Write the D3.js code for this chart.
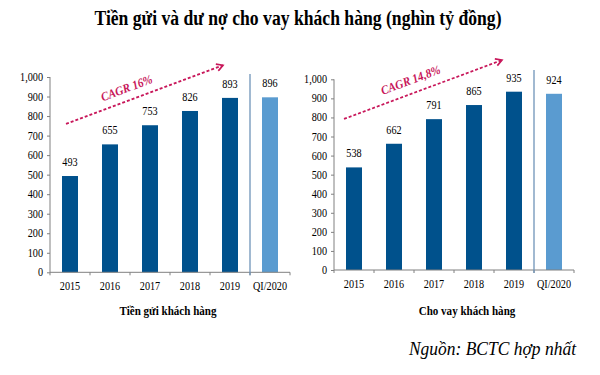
<!DOCTYPE html>
<html><head><meta charset="utf-8">
<script src="https://cdn.jsdelivr.net/npm/d3@7"></script>
<style>html,body{margin:0;padding:0;background:#fff;}svg{display:block;}</style>
</head><body>
<svg id="c" width="600" height="375"></svg>
<script>
const categories = ["2015","2016","2017","2018","2019","QI/2020"];
const deposits = [493,655,753,826,893,896];
const loans = [538,662,791,865,935,924];
const yTicks = [0,100,200,300,400,500,600,700,800,900,1000];
const panelTitles = ["Tiền gửi khách hàng","Cho vay khách hàng"];
const cagrLabels = ["CAGR 16%","CAGR 14,8%"];
const chartTitle = "Tiền gửi và dư nợ cho vay khách hàng (nghìn tỷ đồng)";
const sourceNote = "Nguồn: BCTC hợp nhất";

const svg = d3.select("#c");
const FONT = "'Liberation Serif','Times New Roman',serif";
const DARK = "#00518C", LIGHT = "#5A9BD0", SEP = "#6F94B8", AXIS = "#808080", CAGR = "#C8175A";

function txt(g, x, y, s, o) {
  const t = g.append("text")
    .attr("transform", `translate(${x},${y})` + (o.rot ? ` rotate(${o.rot})` : "") + ` scale(${o.sx || 1},1)`)
    .attr("text-anchor", o.anchor || "middle")
    .attr("font-family", FONT)
    .attr("font-size", o.size)
    .attr("font-weight", o.weight || "normal")
    .attr("font-style", o.style || "normal")
    .attr("fill", o.fill || "#000")
    .text(s);
  return t;
}

// title
txt(svg, 298, 25, chartTitle, {size: 20.5, weight: "bold", sx: 0.86});

const panels = [
  {values: deposits, x0: 50, x1: 290, yTop: 77, yBot: 272.3, sepTop: 74,
   arrow: [[0, 16, 760], [4, 13, 1060]], label: [128, 88], title: panelTitles[0], cagr: cagrLabels[0], titleX: 168},
  {values: loans, x0: 334, x1: 574, yTop: 79.3, yBot: 270, sepTop: 70,
   arrow: [[0, 10, 792], [4, 8, 1101]], label: [412, 80], title: panelTitles[1], cagr: cagrLabels[1], titleX: 467}
];

svg.append("defs").append("marker")
  .attr("id", "ah").attr("viewBox", "0 0 10 10").attr("refX", 8).attr("refY", 5)
  .attr("markerWidth", 5).attr("markerHeight", 5).attr("orient", "auto")
  .append("path").attr("d", "M1,1 L8,5 L1,9").attr("fill", "none").attr("stroke", CAGR).attr("stroke-width", 1.8);

panels.forEach(p => {
  const g = svg.append("g");
  const x = d3.scaleBand().domain(categories).range([p.x0, p.x1]).paddingInner(0).paddingOuter(0);
  const y = d3.scaleLinear().domain([0, 1000]).range([p.yBot, p.yTop]);
  const bw = 16;

  // bars
  g.selectAll("rect.bar").data(p.values).join("rect")
    .attr("x", (d, i) => x(categories[i]) + x.bandwidth() / 2 - bw / 2)
    .attr("y", d => y(d))
    .attr("width", bw)
    .attr("height", d => y(0) - y(d))
    .attr("fill", (d, i) => i === categories.length - 1 ? LIGHT : DARK);

  // value labels
  p.values.forEach((d, i) => {
    txt(g, x(categories[i]) + x.bandwidth() / 2, y(d) - 10, String(d), {size: 12, sx: 0.85});
  });

  // y axis
  const ya = g.append("g").attr("transform", `translate(${p.x0},0)`)
    .call(d3.axisLeft(y).tickValues(yTicks).tickSize(3).tickFormat(() => ""));
  ya.selectAll("path,line").attr("stroke", AXIS);
  ya.select(".domain").attr("d", `M0,${y(1000)}V${y(0)}`);
  yTicks.forEach(t => txt(g, p.x0 - 7, y(t) + 4, d3.format(",")(t), {size: 12, anchor: "end", sx: 0.85}));

  // x axis
  const xa = g.append("g").attr("transform", `translate(0,${y(0)})`)
    .call(d3.axisBottom(x).tickSize(0).tickFormat(() => ""));
  xa.select(".domain").attr("stroke", AXIS).attr("d", `M${p.x0},0H${p.x1}`);
  xa.selectAll(".tick line").remove();
  const bounds = categories.map(c => x(c)).concat([p.x1]);
  g.selectAll("line.xt").data(bounds).join("line")
    .attr("x1", d => d).attr("x2", d => d)
    .attr("y1", y(0)).attr("y2", y(0) + 3).attr("stroke", AXIS);
  categories.forEach(c => txt(g, x(c) + x.bandwidth() / 2, y(0) + 18, c, {size: 12, sx: 0.85}));

  // separator
  const sx = x(categories[categories.length - 1]);
  g.append("line").attr("x1", sx).attr("x2", sx).attr("y1", p.sepTop).attr("y2", y(0) + 3)
    .attr("stroke", SEP).attr("stroke-width", 1.3);

  // CAGR arrow
  const a0 = p.arrow[0], a1 = p.arrow[1];
  const ax0 = x(categories[a0[0]]) + a0[1], ay0 = y(a0[2]);
  const ax1 = x(categories[a1[0]]) + a1[1], ay1 = y(a1[2]);
  g.append("line").attr("x1", ax0).attr("y1", ay0).attr("x2", ax1).attr("y2", ay1)
    .attr("stroke", CAGR).attr("stroke-width", 1.8).attr("stroke-dasharray", "3,2")
    .attr("marker-end", "url(#ah)");
  const ang = Math.atan2(ay1 - ay0, ax1 - ax0) * 180 / Math.PI;
  txt(g, p.label[0], p.label[1] + 4, p.cagr, {size: 12.5, weight: "bold", style: "italic", fill: CAGR, rot: ang, sx: 0.9});

  // panel title
  txt(svg, p.titleX, 315, p.title, {size: 13, weight: "bold", sx: 0.85});
});

txt(svg, 576, 355, sourceNote, {size: 19, style: "italic", anchor: "end", sx: 0.92});
</script>
</body></html>
